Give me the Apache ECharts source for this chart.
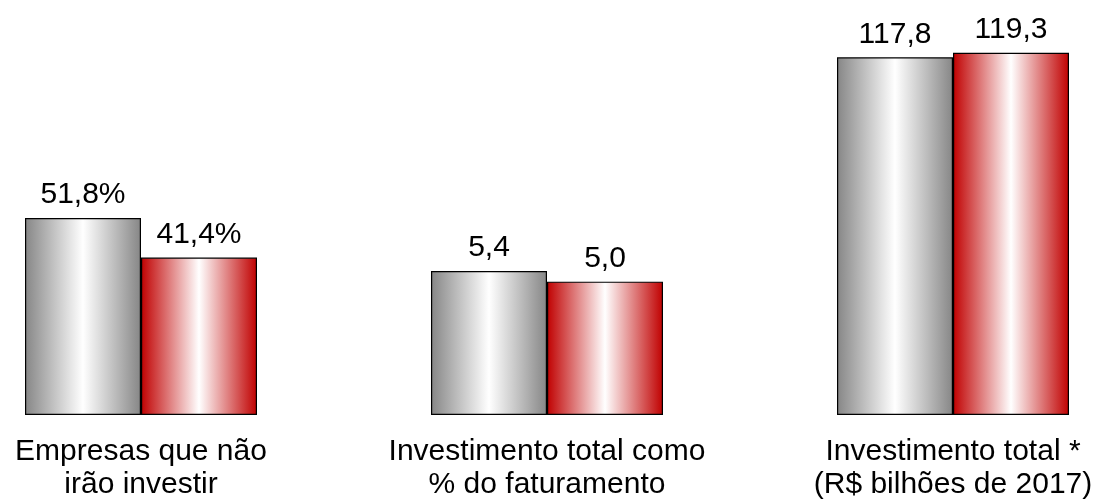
<!DOCTYPE html>
<html>
<head>
<meta charset="utf-8">
<script src="https://cdn.jsdelivr.net/npm/echarts@6/dist/echarts.min.js"></script>
<style>
html,body{margin:0;padding:0;background:#fff;}
#chart{width:1101px;height:501px;}
</style>
</head>
<body>
<div id="chart"></div>
<script>
var categories = ['Empresas que não\nirão investir', 'Investimento total como\n% do faturamento', 'Investimento total *\n(R$ bilhões de 2017)'];
var seriesA = [51.8, 5.4, 117.8];
var seriesB = [41.4, 5.0, 119.3];
var suffixes = ['%', '', ''];
var axisMax = [104.9, 14.96, 131.4];

var gridLefts = [25, 431, 837];
var font = '"Liberation Sans", Arial, sans-serif';

function grad(edge) {
  return {
    type: 'linear', x: 0, y: 0, x2: 1, y2: 0,
    colorStops: [
      {offset: 0, color: edge},
      {offset: 0.5, color: '#ffffff'},
      {offset: 1, color: edge}
    ]
  };
}

var grids = [], xAxes = [], yAxes = [], series = [];
categories.forEach(function (cat, i) {
  grids.push({left: gridLefts[i], width: 232, top: 16, height: 400});
  xAxes.push({
    type: 'category', gridIndex: i, data: [cat],
    axisLine: {show: false}, axisTick: {show: false},
    axisLabel: {color: '#000', fontFamily: font, fontSize: 30, lineHeight: 33, margin: 20, interval: 0}
  });
  yAxes.push({type: 'value', gridIndex: i, min: 0, max: axisMax[i], show: false, splitLine: {show: false}});
  [[seriesA, '#868686'], [seriesB, '#c00000']].forEach(function (pair) {
    series.push({
      type: 'bar', xAxisIndex: i, yAxisIndex: i,
      data: [pair[0][i]], barWidth: 116, barGap: '0%',
      itemStyle: {color: grad(pair[1]), borderColor: '#000', borderWidth: 1.2},
      label: {
        show: true, position: 'top', distance: 8, color: '#000', fontFamily: font, fontSize: 30,
        formatter: function (p) { return String(p.value).replace('.', ',') + (p.value % 1 === 0 ? ',0' : '') + suffixes[i]; }
      },
      emphasis: {disabled: true}, animation: false
    });
  });
});

var chart = echarts.init(document.getElementById('chart'));
chart.setOption({animation: false, grid: grids, xAxis: xAxes, yAxis: yAxes, series: series});
</script>
</body>
</html>
